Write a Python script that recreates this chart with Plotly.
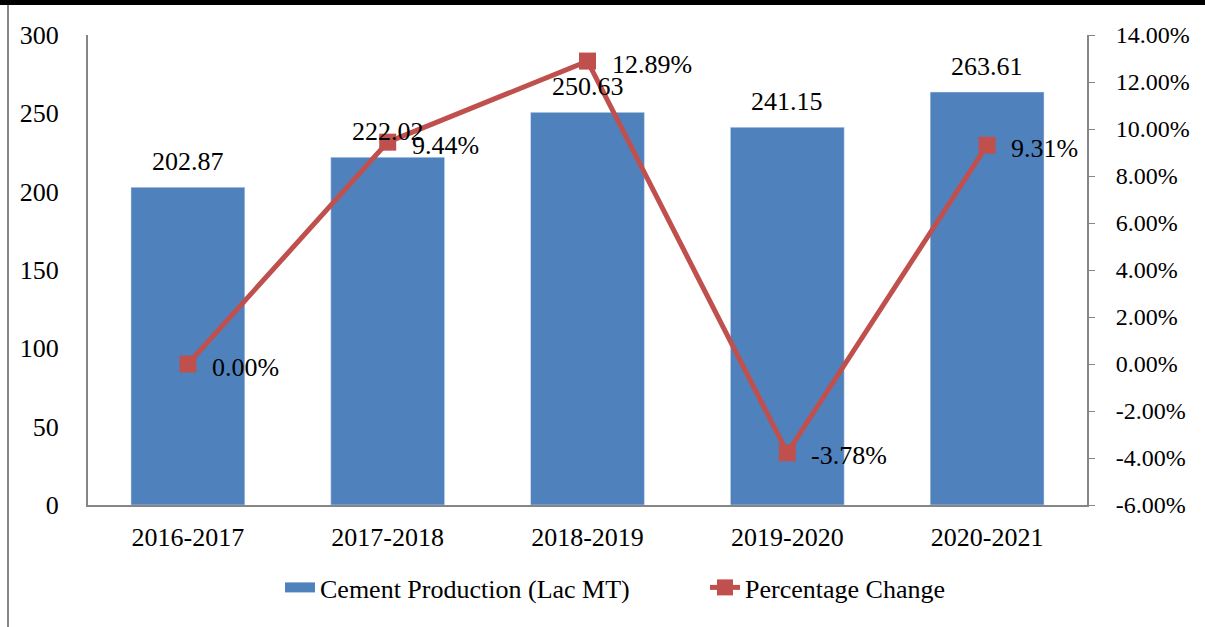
import plotly.graph_objects as go

# dados
anos = ["2016-2017", "2017-2018", "2018-2019", "2019-2020", "2020-2021"]
producao = [202.87, 222.02, 250.63, 241.15, 263.61]
variacao = [0.00, 9.44, 12.89, -3.78, 9.31]
ticks_pct = [-6, -4, -2, 0, 2, 4, 6, 8, 10, 12, 14]
rotulos_pct = ["-6.00%", "-4.00%", "-2.00%", "0.00%", "2.00%", "4.00%",
               "6.00%", "8.00%", "10.00%", "12.00%", "14.00%"]

AZUL = "#4F81BD"
VERMELHO = "#C0504D"
CINZA = "#868686"
FONTE = "Liberation Serif, Times New Roman, serif"
TAM = 26

fig = go.Figure()
fig.add_bar(
    x=anos, y=producao, name="Cement Production (Lac MT)",
    marker_color=AZUL, showlegend=False,
)
# só para a legenda: retângulo azul largo, como no original
fig.add_scatter(
    x=[None], y=[None], mode="lines", name="Cement Production (Lac MT)",
    line=dict(color=AZUL, width=13),
)
fig.add_scatter(
    x=anos, y=variacao, yaxis="y2", name="Percentage Change",
    mode="lines+markers",
    line=dict(color=VERMELHO, width=5),
    marker=dict(symbol="square", size=17, color=VERMELHO),
    cliponaxis=False,
)

# rótulos de dados
anots = []
for a, v in zip(anos, producao):
    anots.append(dict(x=a, y=v, text=f"{v:.2f}", showarrow=False,
                      yanchor="middle", yshift=26, font=dict(size=TAM)))
for a, v in zip(anos, variacao):
    anots.append(dict(x=a, y=v, yref="y2", text=f"{v:.2f}%", showarrow=False,
                      xanchor="left", yanchor="middle", xshift=22, yshift=-3,
                      font=dict(size=TAM)))

# moldura da imagem (linha preta no topo, cinza à esquerda)
W, H = 999, 470
def px_x(p):
    return (p - 88) / W
def px_y(p):
    return (505 - p) / H

fig.update_layout(
    width=1205, height=627,
    paper_bgcolor="#fff", plot_bgcolor="#fff",
    font=dict(family=FONTE, size=TAM, color="#000"),
    margin=dict(l=88, r=118, t=35, b=122),
    bargap=0.43,
    showlegend=True,
    legend=dict(orientation="h", x=px_x(280), xanchor="left", y=px_y(564),
                yanchor="top", font=dict(size=TAM), entrywidth=380),
    xaxis=dict(showline=True, linecolor=CINZA, linewidth=2, ticks="",
               showgrid=False, ticklabelstandoff=8, automargin=False),
    yaxis=dict(range=[0, 300], dtick=50, showline=True, linecolor=CINZA, linewidth=2,
               showgrid=False, ticks="", ticklabelstandoff=22, zeroline=False,
               automargin=False),
    yaxis2=dict(range=[-6, 14], tickvals=ticks_pct, ticktext=rotulos_pct,
                overlaying="y", side="right", tickfont=dict(size=24),
                showline=True, linecolor=CINZA, linewidth=2, ticks="outside",
                ticklen=6, tickcolor=CINZA, ticklabelstandoff=16,
                showgrid=False, zeroline=False, automargin=False),
    annotations=anots,
    shapes=[
        dict(type="line", xref="paper", yref="paper",
             x0=px_x(0), x1=px_x(1205), y0=px_y(2.5), y1=px_y(2.5),
             line=dict(color="#000", width=5)),
        dict(type="line", xref="paper", yref="paper",
             x0=px_x(8), x1=px_x(8), y0=px_y(5), y1=px_y(627),
             line=dict(color=CINZA, width=2)),
    ],
)

# sem a margem padrão do <body>, para a figura ocupar a janela toda
fig.write_html("out.html", config={"displayModeBar": False},
               post_script="document.body.style.margin='0';")
